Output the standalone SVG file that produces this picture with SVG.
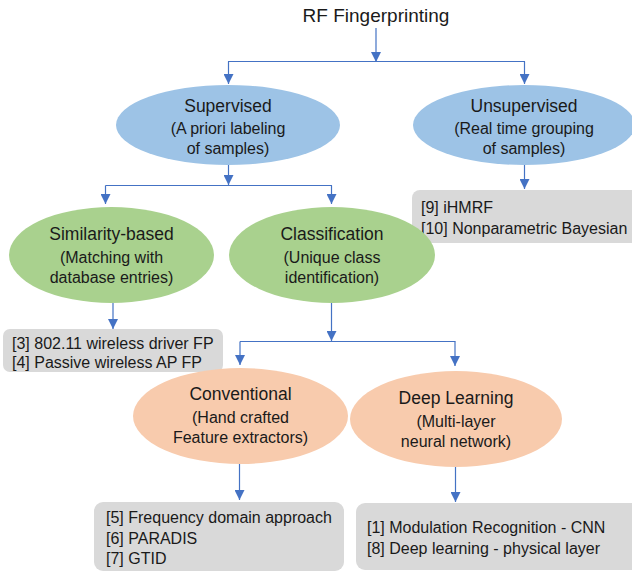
<svg xmlns="http://www.w3.org/2000/svg" width="632" height="572" viewBox="0 0 632 572">
  <style>
    text { font-family: "Liberation Sans", Arial, sans-serif; fill: #1a1a1a; }
    .title { font-size: 19px; text-anchor: middle; }
    .head { font-size: 17.5px; text-anchor: middle; }
    .sub { font-size: 16px; text-anchor: middle; }
    .item { font-size: 16px; }
    .blue { fill: #9dc3e6; }
    .green { fill: #a9d18e; }
    .orange { fill: #f8cbad; }
    .list { fill: #d9d9d9; }
    .wire { fill: none; stroke: #4472c4; stroke-width: 1.2; }
    .arrow { fill: none; stroke: #4472c4; stroke-width: 1.2; marker-end: url(#tip); }
  </style>
  <defs>
    <marker id="tip" markerUnits="userSpaceOnUse" markerWidth="10" markerHeight="10" viewBox="0 0 10 10" refX="10" refY="5" orient="auto">
      <path d="M0,0 L10,5 L0,10 Z" fill="#4472c4"/>
    </marker>
  </defs>

  <!-- connectors -->
  <g id="connectors">
    <path class="arrow" d="M376 28 V62"/>
    <path class="wire" d="M228 61.5 H525"/>
    <path class="arrow" d="M228.5 61.5 V84"/>
    <path class="arrow" d="M524.5 61.5 V84"/>

    <path class="arrow" d="M228.5 165 V185"/>
    <path class="wire" d="M105.5 185.5 H332"/>
    <path class="arrow" d="M105.5 185.5 V204"/>
    <path class="arrow" d="M331.5 185.5 V204"/>

    <path class="arrow" d="M524.5 165 V189"/>

    <path class="arrow" d="M113 303 V329"/>

    <path class="arrow" d="M331.5 303 V341"/>
    <path class="wire" d="M240 341.5 H455.5"/>
    <path class="arrow" d="M240 341.5 V365"/>
    <path class="arrow" d="M455 341.5 V366"/>

    <path class="arrow" d="M239.5 463 V500"/>
    <path class="arrow" d="M455.5 467 V502"/>
  </g>

  <!-- root -->
  <g id="rf-fingerprinting">
    <text class="title" x="376" y="22">RF Fingerprinting</text>
  </g>

  <!-- first level -->
  <g id="supervised">
    <ellipse class="blue" cx="228" cy="125" rx="112" ry="40"/>
    <text class="head" x="228" y="112">Supervised</text>
    <text class="sub" x="228" y="133.5">(A priori labeling</text>
    <text class="sub" x="228" y="153.5">of samples)</text>
  </g>
  <g id="unsupervised">
    <ellipse class="blue" cx="524" cy="125" rx="111" ry="40"/>
    <text class="head" x="524" y="112">Unsupervised</text>
    <text class="sub" x="524" y="133.5">(Real time grouping</text>
    <text class="sub" x="524" y="153.5">of samples)</text>
  </g>
  <g id="unsupervised-refs">
    <rect class="list" x="412" y="190" width="240" height="53" rx="8"/>
    <text class="item" x="421" y="212.5">[9] iHMRF</text>
    <text class="item" x="421" y="233.5">[10] Nonparametric Bayesian</text>
  </g>

  <!-- second level -->
  <g id="similarity-based">
    <ellipse class="green" cx="111.5" cy="255" rx="102.5" ry="48"/>
    <text class="head" x="111.5" y="240">Similarity-based</text>
    <text class="sub" x="111.5" y="262.5">(Matching with</text>
    <text class="sub" x="111.5" y="282.5">database entries)</text>
  </g>
  <g id="classification">
    <ellipse class="green" cx="332" cy="255" rx="103" ry="48"/>
    <text class="head" x="332" y="240">Classification</text>
    <text class="sub" x="332" y="262.5">(Unique class</text>
    <text class="sub" x="332" y="282.5">identification)</text>
  </g>
  <g id="similarity-refs">
    <rect class="list" x="3" y="329" width="220" height="43" rx="7"/>
    <text class="item" x="12" y="349">[3] 802.11 wireless driver FP</text>
    <text class="item" x="12" y="368">[4] Passive wireless AP FP</text>
  </g>

  <!-- third level -->
  <g id="conventional">
    <ellipse class="orange" cx="240.5" cy="416" rx="107.5" ry="48"/>
    <text class="head" x="240.5" y="400">Conventional</text>
    <text class="sub" x="240.5" y="422.5">(Hand crafted</text>
    <text class="sub" x="240.5" y="442.5">Feature extractors)</text>
  </g>
  <g id="deep-learning">
    <ellipse class="orange" cx="456" cy="419" rx="106" ry="48"/>
    <text class="head" x="456" y="404">Deep Learning</text>
    <text class="sub" x="456" y="426.5">(Multi-layer</text>
    <text class="sub" x="456" y="446.5">neural network)</text>
  </g>
  <g id="conventional-refs">
    <rect class="list" x="94" y="502" width="250" height="69" rx="9"/>
    <text class="item" x="106" y="522.5">[5] Frequency domain approach</text>
    <text class="item" x="106" y="543.5">[6] PARADIS</text>
    <text class="item" x="106" y="563.5">[7] GTID</text>
  </g>
  <g id="deep-learning-refs">
    <rect class="list" x="356" y="503" width="290" height="67" rx="9"/>
    <text class="item" x="367" y="532.5">[1] Modulation Recognition - CNN</text>
    <text class="item" x="367" y="553.5">[8] Deep learning - physical layer</text>
  </g>
</svg>
